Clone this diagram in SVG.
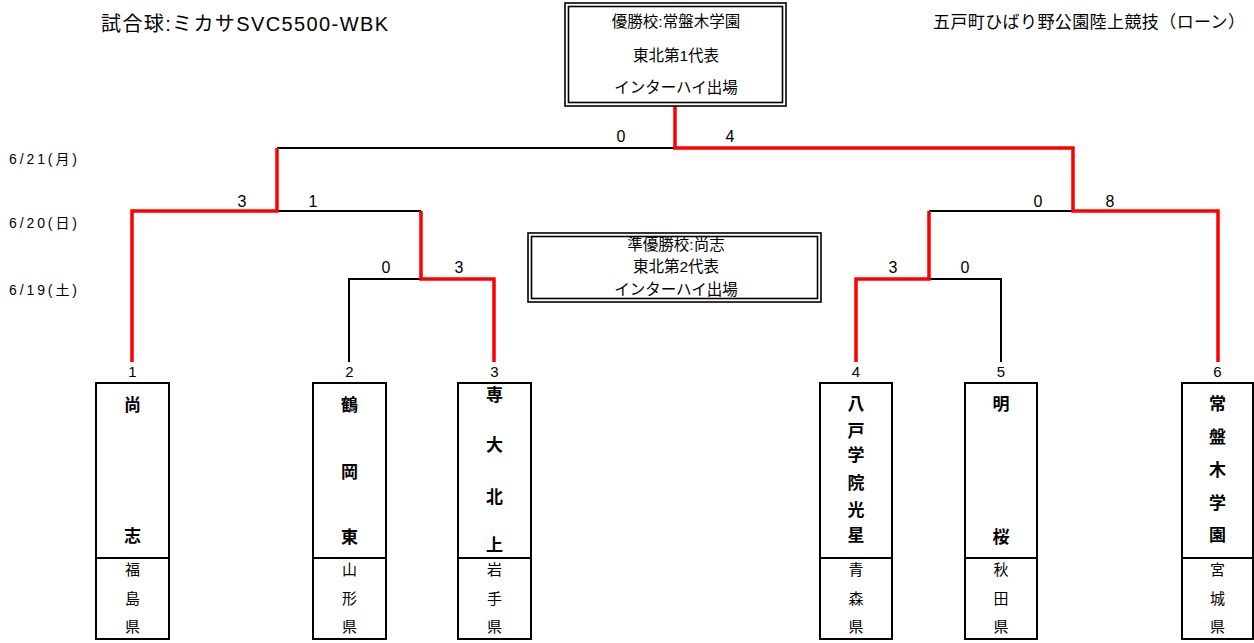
<svg xmlns="http://www.w3.org/2000/svg" width="1254" height="643" viewBox="0 0 1254 643">
<style>
text{font-family:"Liberation Sans","Noto Sans CJK JP",sans-serif;fill:#000}
.t{font-size:20px}
.t2{font-size:17px}
.d{font-size:14px}
.s{font-size:16px;text-anchor:middle}
.n{font-size:15px;text-anchor:middle}
.b{font-size:15.5px;text-anchor:middle}
.nm{font-size:17px;font-weight:bold;text-anchor:middle}
.pf{font-size:15px;text-anchor:middle}
.box{fill:#fff;stroke:#000;stroke-width:2}
.dbl{fill:none;stroke:#000;stroke-width:1.6}
.lk{fill:none;stroke:#000;stroke-width:2}
.rd{fill:none;stroke:#ff0000;stroke-width:3.5}
</style>
<rect width="1254" height="643" fill="#fff"/>
<text class="t" x="101" y="31" textLength="287">試合球:ミカサSVC5500-WBK</text>
<text class="t2" x="933" y="28" textLength="312">五戸町ひばり野公園陸上競技（ローン）</text>
<g id="dates">
<text class="d" x="9" y="164" textLength="68">6/21(月)</text>
<text class="d" x="9" y="228" textLength="68">6/20(日)</text>
<text class="d" x="9" y="295" textLength="68">6/19(土)</text>
</g>
<g id="connectors">
<path class="lk" d="M277 148H675"/>
<path class="lk" d="M277 211H421"/>
<path class="lk" d="M349 362V279H421"/>
<path class="lk" d="M929 211H1073"/>
<path class="lk" d="M1001 362V279H929"/>
<path class="rd" d="M132 362V211H277V148"/>
<path class="rd" d="M494 362V279H421V211"/>
<path class="rd" d="M675 106V148H1073V211H1218V362"/>
<path class="rd" d="M856 362V279H929V211"/>
</g>
<g id="scores">
<text class="s" x="621" y="142">0</text>
<text class="s" x="730" y="142">4</text>
<text class="s" x="242" y="207">3</text>
<text class="s" x="313" y="207">1</text>
<text class="s" x="1038" y="207">0</text>
<text class="s" x="1110" y="207">8</text>
<text class="s" x="386" y="273">0</text>
<text class="s" x="459" y="273">3</text>
<text class="s" x="893" y="273">3</text>
<text class="s" x="965" y="273">0</text>
</g>
<g id="champion">
<rect class="dbl" x="565" y="3" width="221" height="103"/>
<rect class="dbl" x="568.5" y="6.5" width="214" height="96"/>
<text class="b" x="676" y="27">優勝校:常盤木学園</text>
<text class="b" x="676" y="61">東北第1代表</text>
<text class="b" x="676" y="93">インターハイ出場</text>
</g>
<g id="runnerup">
<rect class="dbl" x="528" y="233" width="293" height="69"/>
<rect class="dbl" x="531.5" y="236.5" width="286" height="62"/>
<text class="b" x="676" y="250">準優勝校:尚志</text>
<text class="b" x="676" y="272">東北第2代表</text>
<text class="b" x="676" y="295">インターハイ出場</text>
</g>
<g id="team1">
<text class="n" x="132.5" y="377">1</text>
<rect class="box" x="96" y="383" width="73" height="256"/>
<path class="lk" d="M96 558H169"/>
<text class="nm" x="132.5" y="411">尚</text>
<text class="nm" x="132.5" y="542">志</text>
<text class="pf" x="132.5" y="575">福</text>
<text class="pf" x="132.5" y="604">島</text>
<text class="pf" x="132.5" y="632">県</text>
</g>
<g id="team2">
<text class="n" x="349.5" y="377">2</text>
<rect class="box" x="313" y="383" width="73" height="256"/>
<path class="lk" d="M313 558H386"/>
<text class="nm" x="349.5" y="411">鶴</text>
<text class="nm" x="349.5" y="478">岡</text>
<text class="nm" x="349.5" y="543">東</text>
<text class="pf" x="349.5" y="575">山</text>
<text class="pf" x="349.5" y="604">形</text>
<text class="pf" x="349.5" y="632">県</text>
</g>
<g id="team3">
<text class="n" x="494.5" y="377">3</text>
<rect class="box" x="458" y="383" width="73" height="256"/>
<path class="lk" d="M458 558H531"/>
<text class="nm" x="494.5" y="401">専</text>
<text class="nm" x="494.5" y="451">大</text>
<text class="nm" x="494.5" y="503">北</text>
<text class="nm" x="494.5" y="551">上</text>
<text class="pf" x="494.5" y="575">岩</text>
<text class="pf" x="494.5" y="604">手</text>
<text class="pf" x="494.5" y="632">県</text>
</g>
<g id="team4">
<text class="n" x="856" y="377">4</text>
<rect class="box" x="820" y="383" width="72" height="256"/>
<path class="lk" d="M820 558H892"/>
<text class="nm" x="856" y="409.5">八</text>
<text class="nm" x="856" y="436.5">戸</text>
<text class="nm" x="856" y="461">学</text>
<text class="nm" x="856" y="489">院</text>
<text class="nm" x="856" y="516">光</text>
<text class="nm" x="856" y="541">星</text>
<text class="pf" x="856" y="575">青</text>
<text class="pf" x="856" y="604">森</text>
<text class="pf" x="856" y="632">県</text>
</g>
<g id="team5">
<text class="n" x="1001" y="377">5</text>
<rect class="box" x="965" y="383" width="72" height="256"/>
<path class="lk" d="M965 558H1037"/>
<text class="nm" x="1001" y="409.5">明</text>
<text class="nm" x="1001" y="543">桜</text>
<text class="pf" x="1001" y="575">秋</text>
<text class="pf" x="1001" y="604">田</text>
<text class="pf" x="1001" y="632">県</text>
</g>
<g id="team6">
<text class="n" x="1217.5" y="377">6</text>
<rect class="box" x="1182" y="383" width="71" height="256"/>
<path class="lk" d="M1182 558H1253"/>
<text class="nm" x="1217.5" y="409.5">常</text>
<text class="nm" x="1217.5" y="443">盤</text>
<text class="nm" x="1217.5" y="476">木</text>
<text class="nm" x="1217.5" y="509">学</text>
<text class="nm" x="1217.5" y="541">園</text>
<text class="pf" x="1217.5" y="575">宮</text>
<text class="pf" x="1217.5" y="604">城</text>
<text class="pf" x="1217.5" y="632">県</text>
</g>
</svg>
